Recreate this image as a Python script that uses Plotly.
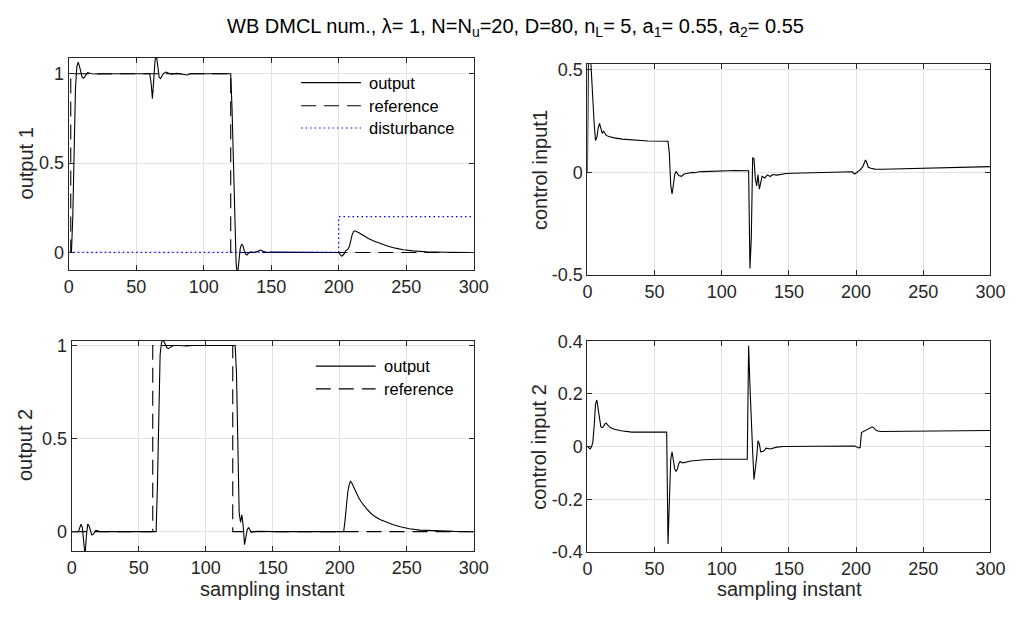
import plotly.graph_objects as go

# ---------------- data ----------------
# output 1 (top-left)
k_out1 = [0, 2, 3, 4, 5, 6, 7, 8, 9, 10, 11, 12, 13, 14, 15, 17, 20, 25, 30, 40, 50, 58,
          60, 61, 62, 63, 64, 65, 66, 67, 68, 69, 70, 72, 74, 76, 80, 85, 88, 90, 95, 110,
          120, 121, 122, 123, 124, 125, 126, 127, 128, 129, 130, 131, 132, 133, 135, 137,
          140, 142, 144, 147, 150, 170, 190, 198, 200, 201, 202, 203, 204, 205, 206, 207,
          208, 209, 210, 211, 212, 215, 218, 222, 226, 231, 236, 242, 248, 255, 265, 280, 300]
out1 = [0, 0.0, 0.2, 0.6, 0.92, 1.04, 1.065, 1.04, 1.005, 0.98, 0.975, 0.985, 1.0, 1.006,
        1.004, 1.0, 0.999, 1.0, 1.0, 1.0, 1.0, 1.0,
        1.0, 0.95, 0.86, 0.97, 1.08, 1.1, 1.02, 0.98, 0.973, 0.985, 1.0, 1.01, 1.003, 0.998,
        1.002, 0.998, 0.993, 1.0, 1.0, 1.0,
        1.0, 0.8, 0.45, 0.1, -0.06, -0.13, -0.05, 0.02, 0.045, 0.04, 0.01, -0.01, -0.014,
        -0.005, 0.003, 0.0,
        0.006, 0.013, 0.006, 0.0, 0.002, 0.0, 0.0, 0.0, 0.0, -0.01, -0.02, -0.017, -0.008,
        0.008, 0.016, 0.02,
        0.035, 0.07, 0.1, 0.117, 0.121, 0.11, 0.095, 0.078, 0.064, 0.049, 0.036, 0.024,
        0.015, 0.009, 0.004, 0.001, 0.0]
k_ref1 = [0, 1.5, 120, 300]
ref1 = [0, 1, 0, 0]
k_dist = [0, 200, 300]
dist = [0, 0.2, 0.2]

# output 2 (bottom-left)
k_out2 = [0, 5, 6, 7, 8, 9, 10, 11, 12, 13, 14, 15, 16, 17, 18, 19, 21, 40, 62, 63, 64,
          65, 66, 67, 68, 69, 70, 71, 72, 73, 74, 76, 80, 86, 90, 100, 122, 123, 124, 125,
          126, 127, 128, 129, 130, 131, 132, 133, 134, 136, 140, 150, 200, 202, 203, 204,
          205, 206, 207, 208, 209, 210, 212, 214, 216, 218, 220, 223, 226, 230, 235, 240,
          246, 252, 260, 270, 285, 300]
out2 = [0, 0, 0.02, 0.04, 0.02, -0.04, -0.13, -0.02, 0.04, 0.03, 0.0, -0.018, -0.015, 0.0,
        0.006, 0.004, 0.0, 0.0, 0.0, 0.0, 0.25,
        0.65, 0.95, 1.015, 1.03, 1.02, 1.0, 0.99, 0.983, 0.987, 0.995, 1.0, 1.0, 0.997, 1.0,
        0.999, 1.0, 0.85, 0.45, 0.1,
        0.05, 0.09, 0.03, -0.07, -0.03, 0.01, 0.022, 0.008, -0.004, 0.0, 0.002, 0.0, 0.0,
        -0.004, 0.0, 0.06,
        0.14, 0.21, 0.25, 0.27, 0.262, 0.245, 0.21, 0.185, 0.16, 0.14, 0.123, 0.1, 0.082,
        0.065, 0.05, 0.037,
        0.025, 0.015, 0.008, 0.004, 0.001, 0.0]
k_ref2 = [0, 60.5, 120.2, 300]
ref2 = [0, 1, 0, 0]

# control input 1 (top-right)
k_u1 = [0, 1, 2, 3, 4, 5, 6, 7, 8, 9, 10, 11, 12, 13, 14, 16, 20, 26, 36, 45, 60, 61, 62,
        63, 64, 65, 66, 67, 68, 70, 72, 75, 78, 80, 83, 86, 92, 100, 110, 120, 121, 122,
        123, 124, 125, 126, 127, 128, 129, 130, 132, 134, 136, 138, 141, 144, 148, 153,
        170, 190, 197, 199, 201, 203, 205, 206, 207, 208, 209, 211, 214, 220, 240, 260,
        280, 300]
u1 = [0, 0.75, 0.6, 0.48, 0.31, 0.24, 0.155, 0.17, 0.215, 0.238, 0.215, 0.19, 0.2, 0.19,
      0.18, 0.175, 0.168, 0.162, 0.156, 0.153, 0.152, 0.09, -0.06,
      -0.105, -0.06, -0.01, 0.005, -0.003, -0.015, -0.019, -0.008, -0.004, 0.0, -0.002,
      0.003, 0.004, 0.006, 0.008, 0.009, 0.008, -0.467, -0.32,
      0.072, 0.066, -0.03, -0.066, -0.01, -0.082, -0.045, -0.019, -0.027, -0.012, -0.02,
      -0.01, -0.013, -0.008, -0.005, -0.004,
      -0.002, 0.0, 0.003, -0.008, 0.0, 0.012, 0.028, 0.045, 0.06, 0.048, 0.025, 0.02,
      0.016, 0.015, 0.018, 0.022,
      0.026, 0.028]

# control input 2 (bottom-right)
k_u2 = [0, 1, 2, 3, 4, 5, 6, 7, 8, 9, 10, 11, 12, 13, 14, 15, 17, 20, 25, 33, 59, 60, 61,
        62, 63, 64, 65, 66, 67, 68, 69, 71, 74, 77, 87, 97, 119, 120, 121, 122, 123, 124,
        125, 126, 127, 128, 129, 131, 133, 136, 141, 146, 170, 194, 199, 202, 203, 204,
        206, 208, 210, 212, 213, 215, 218, 230, 260, 300]
u2 = [0, -0.005, -0.009, -0.002, 0.016, 0.077, 0.16, 0.177, 0.14, 0.1, 0.075, 0.072, 0.076,
      0.086, 0.089, 0.082, 0.072, 0.066, 0.06, 0.055, 0.055, -0.37, -0.23,
      -0.05, -0.02, -0.06, -0.085, -0.095, -0.085, -0.065, -0.057, -0.062, -0.058, -0.055,
      -0.05, -0.048, -0.048, 0.383, 0.23, 0.065, -0.02, -0.125,
      -0.09, -0.04, 0.022, 0.01, -0.02, -0.018, -0.006, -0.009, -0.002, 0.0, 0.001, 0.004,
      0.002, -0.005, -0.004, 0.053,
      0.059, 0.062, 0.071, 0.075, 0.072, 0.061, 0.057, 0.058, 0.06, 0.061]

x_ticks = [0, 50, 100, 150, 200, 250, 300]
x_ticklabels = ["0", "50", "100", "150", "200", "250", "300"]

# ---------------- figure ----------------
W, H = 1026, 619
FONT = "Liberation Sans, Arial, Helvetica, sans-serif"
TXT = "#262626"
GRID = "#e3e3e3"
TICK_SIZE = 18
LABEL_SIZE = 20
LEGEND_SIZE = 16.5
TITLE_SIZE = 20


def fx(p):
    return p / W


def fy(p):
    return 1 - p / H


fig = go.Figure()

panels = [
    # name, x px range, y px range (top,bottom), y range, y ticks, y ticktext
    ("", (65, 478), (49.3, 269), [-0.1, 1.09], [0, 0.5, 1], ["0", "0.5", "1"]),
    ("2", (594, 1005), (55.7, 274), [-0.5, 0.528], [-0.5, 0, 0.5], ["-0.5", "0", "0.5"]),
    ("3", (68, 478), (341.7, 559), [-0.104, 1.026], [0, 0.5, 1], ["0", "0.5", "1"]),
    ("4", (594, 1005), (342.3, 560), [-0.4, 0.4], [-0.4, -0.2, 0, 0.2, 0.4],
     ["-0.4", "-0.2", "0", "0.2", "0.4"]),
]

for name, (xl, xr), (yt, yb), yr, ytv, ytt in panels:
    common = dict(showline=True, linecolor=TXT, linewidth=1, mirror="ticks",
                  ticks="inside", ticklen=5, tickcolor=TXT, showgrid=True,
                  gridcolor=GRID, gridwidth=1, zeroline=False,
                  tickfont=dict(family=FONT, size=TICK_SIZE, color=TXT))
    fig.update_layout(**{
        "xaxis" + name: dict(domain=[fx(xl), fx(xr)], range=[0, 300],
                             anchor="y" + name, tickvals=x_ticks,
                             ticktext=x_ticklabels, **common),
        "yaxis" + name: dict(domain=[fy(yb), fy(yt)], range=yr,
                             anchor="x" + name, tickvals=ytv, ticktext=ytt, **common),
    })

BLACK = "#000000"
LW = 1.1
DASH = "15px,8px"

# top-left
fig.add_trace(go.Scatter(x=k_out1, y=out1, mode="lines", line=dict(color=BLACK, width=LW),
                         xaxis="x", yaxis="y", showlegend=False))
fig.add_trace(go.Scatter(x=k_ref1, y=ref1, mode="lines", line_shape="hv",
                         line=dict(color=BLACK, width=LW, dash=DASH),
                         xaxis="x", yaxis="y", showlegend=False))
fig.add_trace(go.Scatter(x=k_dist, y=dist, mode="lines", line_shape="hv",
                         line=dict(color="#0000ff", width=1.2, dash="1.5px,3px"),
                         xaxis="x", yaxis="y", showlegend=False))
# top-right
fig.add_trace(go.Scatter(x=k_u1, y=u1, mode="lines", line=dict(color=BLACK, width=LW),
                         xaxis="x2", yaxis="y2", showlegend=False))
# bottom-left
fig.add_trace(go.Scatter(x=k_out2, y=out2, mode="lines", line=dict(color=BLACK, width=LW),
                         xaxis="x3", yaxis="y3", showlegend=False))
fig.add_trace(go.Scatter(x=k_ref2, y=ref2, mode="lines", line_shape="hv",
                         line=dict(color=BLACK, width=LW, dash=DASH),
                         xaxis="x3", yaxis="y3", showlegend=False))
# bottom-right
fig.add_trace(go.Scatter(x=k_u2, y=u2, mode="lines", line=dict(color=BLACK, width=LW),
                         xaxis="x4", yaxis="y4", showlegend=False))

# manual legends (MATLAB style, no box)
def legend_entry(x0, x1, y, text, dash, color):
    fig.add_shape(type="line", xref="paper", yref="paper", x0=fx(x0), x1=fx(x1),
                  y0=fy(y), y1=fy(y), line=dict(color=color, width=1.1, dash=dash))
    fig.add_annotation(x=fx(x1 + 6), y=fy(y), xref="paper", yref="paper", text=text,
                       showarrow=False, xanchor="left", yanchor="middle",
                       font=dict(family=FONT, size=LEGEND_SIZE, color=BLACK))

legend_entry(302, 363, 75, "output", "solid", BLACK)
legend_entry(302, 363, 99, "reference", DASH, BLACK)
legend_entry(302, 363, 122, "disturbance", "1.5px,3px", "#0000ff")
legend_entry(317, 378, 368, "output", "solid", BLACK)
legend_entry(317, 378, 391.5, "reference", DASH, BLACK)

# axis labels
labels = [
    ("output 1", 21, 159, -90),
    ("control input1", 545, 165, -90),
    ("output 2", 21, 450, -90),
    ("control input 2", 545, 451, -90),
    ("sampling instant", 273, 598, 0),
    ("sampling instant", 800, 598, 0),
]
for text, x, y, ang in labels:
    fig.add_annotation(x=fx(x), y=fy(y), xref="paper", yref="paper", text=text,
                       showarrow=False, textangle=ang, xanchor="center", yanchor="middle",
                       font=dict(family=FONT, size=LABEL_SIZE, color=TXT))

fig.add_annotation(x=fx(521), y=fy(18), xref="paper", yref="paper",
                   text="WB DMCL num., \u03bb= 1, N=N<sub>u</sub>=20, D=80, n<sub>L</sub>= 5, "
                        "a<sub>1</sub>= 0.55, a<sub>2</sub>= 0.55",
                   showarrow=False, xanchor="center", yanchor="middle",
                   font=dict(family=FONT, size=TITLE_SIZE, color=BLACK))

fig.update_layout(width=W, height=H, margin=dict(l=0, r=0, t=0, b=0),
                  paper_bgcolor="white", plot_bgcolor="white", showlegend=False)

# make sure the page has no body margin so the figure fills the window exactly
fig.write_html("out.html",
               post_script="document.body.style.margin='0';")
